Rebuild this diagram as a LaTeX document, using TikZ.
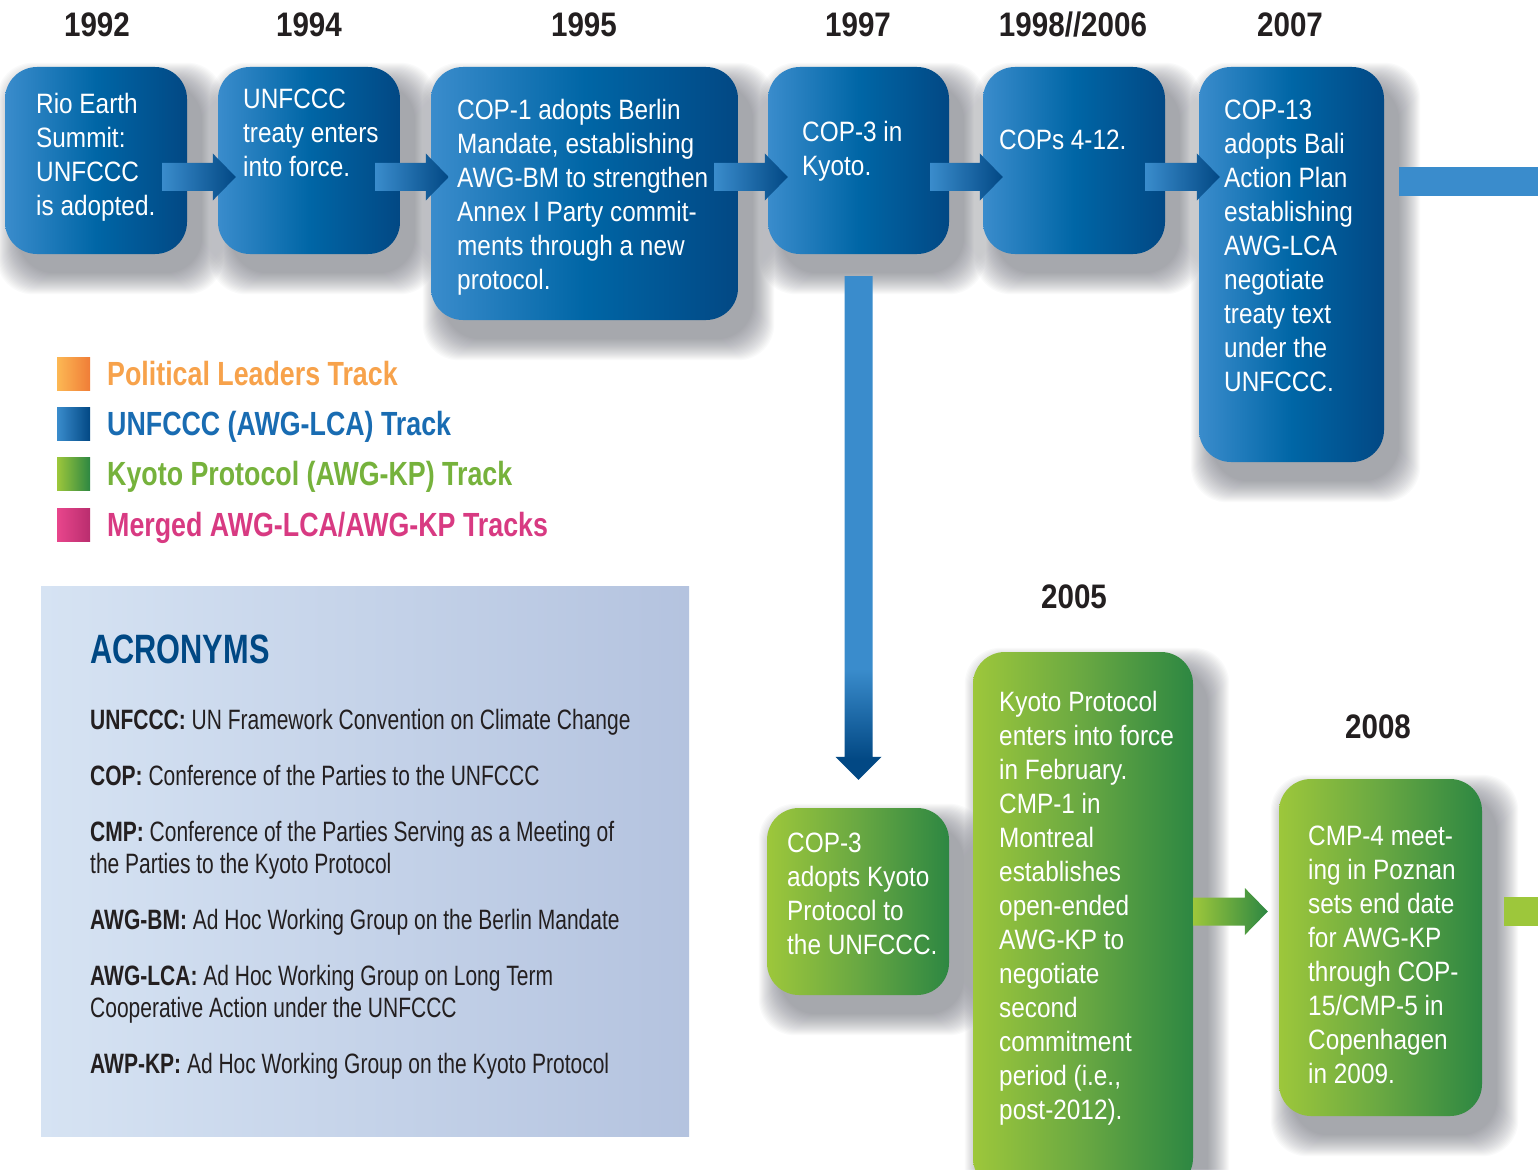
\documentclass[tikz,border=0pt]{standalone}
\usepackage{fontspec}
\setmainfont{Liberation Sans}[FakeStretch=0.87]
\newfontfamily\legendfont{Liberation Sans}[FakeStretch=0.80]
\newfontfamily\acrfont{Liberation Sans}[FakeStretch=0.75]
\usetikzlibrary{calc,backgrounds}

\definecolor{unlight}{RGB}{58,140,204}
\definecolor{unmid}{RGB}{0,102,166}
\definecolor{undark}{RGB}{2,72,132}
\definecolor{kplight}{RGB}{157,199,59}
\definecolor{kpmid}{RGB}{105,168,66}
\definecolor{kpdark}{RGB}{45,135,66}
\definecolor{yeargray}{RGB}{35,31,32}
\definecolor{shadowgray}{RGB}{95,97,110}
\definecolor{acrlight}{RGB}{214,227,243}
\definecolor{acrdark}{RGB}{180,195,223}
\definecolor{acrblue}{RGB}{0,72,132}
\definecolor{orangelight}{RGB}{252,184,84}
\definecolor{orangedark}{RGB}{240,125,55}
\definecolor{pinklight}{RGB}{232,70,140}
\definecolor{pinkdark}{RGB}{185,45,110}
\definecolor{poltext}{RGB}{247,162,75}
\definecolor{untext}{RGB}{25,108,178}
\definecolor{kptext}{RGB}{118,178,60}
\definecolor{mergetext}{RGB}{216,58,130}

\pgfdeclareverticalshading{droparrow}{100bp}{color(0bp)=(undark); color(27bp)=(undark); color(36bp)=(unlight); color(100bp)=(unlight)}

\tikzset{event/.style={rounded corners=32pt,inner sep=0pt,left color=unlight,right color=undark,middle color=unmid},
  kpevent/.style={event,left color=kplight,right color=kpdark,middle color=kpmid},
  eventtext/.style={anchor=north west,inner sep=0pt,align=left,text=white,font=\fontsize{28}{34}\selectfont},
  year/.style={inner sep=0pt,text=yeargray,font=\bfseries\fontsize{34}{40}\selectfont},
  legendbox/.style={minimum size=33pt,inner sep=0pt},
  legendtext/.style={anchor=base west,inner sep=0pt,font=\legendfont\bfseries\fontsize{33.5}{40}\selectfont},
  acrentry/.style={anchor=north west,inner sep=0pt,align=left,text=yeargray,font=\acrfont\fontsize{28}{32}\selectfont}}

% block arrow between two boxes: style, from, to, start offset, tip offset, level
\newcommand{\trackarrow}[6]{%
  \shade[#1] let \p1=(#2.east), \p2=(#3.west) in
    ({\x1+#4pt},{-#6pt+14pt}) -- ({\x2+#5pt-23pt},{-#6pt+14pt}) -- ({\x2+#5pt-23pt},{-#6pt+23.5pt})
    -- ({\x2+#5pt},{-#6pt}) -- ({\x2+#5pt-23pt},{-#6pt-23.5pt}) -- ({\x2+#5pt-23pt},{-#6pt-14pt})
    -- ({\x1+#4pt},{-#6pt-14pt}) -- cycle;}

% soft shadow under a box
\newcommand{\softshadow}[1]{%
  \foreach \g in {1,2,...,22}
    \fill[shadowgray,opacity=0.031,rounded corners=36pt]
      ($(#1.north west)+(14-\g,18-\g)$) rectangle ($(#1.south east)+(14+\g,18+\g)$);}

\begin{document}
\begin{tikzpicture}[x=1pt,y=-1pt]
    \useasboundingbox (0,0) rectangle (1538,1169);
    \clip (0,0) rectangle (1538,1169);

    % UNFCCC track
    \begin{scope}
        \node[event,minimum width=182,minimum height=187] (rio) at (96,160.5) {};
        \node[event,minimum width=182,minimum height=187] (force) at (309,160.5) {};
        \node[event,minimum width=307,minimum height=253] (berlin) at (584.5,193.5) {};
        \node[event,minimum width=181,minimum height=187] (kyoto) at (858.5,160.5) {};
        \node[event,minimum width=182,minimum height=187] (cops) at (1074,160.5) {};
        \node[event,minimum width=185,minimum height=395] (bali) at (1291.5,264.5) {};

        \node[eventtext] (riotxt) at (36,93.5) {Rio Earth\\Summit:\\UNFCCC\\is adopted.};
        \node[eventtext] (forcetxt) at (243,88.5) {UNFCCC\\treaty enters\\into force.};
        \node[eventtext] (berlintxt) at (457,99.5) {COP-1 adopts Berlin\\Mandate, establishing\\AWG-BM to strengthen\\Annex I Party commit-\\ments through a new\\protocol.};
        \node[eventtext] (kyototxt) at (802,121.5) {COP-3 in\\Kyoto.};
        \node[eventtext] (copstxt) at (999,129.5) {COPs 4-12.};
        \node[eventtext] (balitxt) at (1224,99.5) {COP-13\\adopts Bali\\Action Plan\\establishing\\AWG-LCA\\negotiate\\treaty text\\under the\\UNFCCC.};

        \trackarrow{left color=unlight,right color=undark}{rio}{force}{-25}{18}{177}
        \trackarrow{left color=unlight,right color=undark}{force}{berlin}{-25}{18}{177}
        \trackarrow{left color=unlight,right color=undark}{berlin}{kyoto}{-24}{20}{177}
        \trackarrow{left color=unlight,right color=undark}{kyoto}{cops}{-19}{20}{177}
        \trackarrow{left color=unlight,right color=undark}{cops}{bali}{-20}{21}{177}

        \coordinate (unout) at (1538,181.5);
        \draw[unlight,line width=29pt] ($(bali.east |- unout)+(15,0)$) -- (unout);
    \end{scope}

    % years
    \node[year] (y1992) at (97,25) {1992};
    \node[year] (y1994) at (309,25) {1994};
    \node[year] (y1995) at (584,25) {1995};
    \node[year] (y1997) at (858,25) {1997};
    \node[year] (y1998) at (1073,25) {1998//2006};
    \node[year] (y2007) at (1290,25) {2007};
    \node[year] (y2005) at (1074,597) {2005};
    \node[year] (y2008) at (1378,727) {2008};

    % Kyoto Protocol track
    \begin{scope}
        \node[kpevent,minimum width=182,minimum height=187] (adopt) at (858,901.5) {};
        \node[kpevent,minimum width=220,minimum height=538] (cmp1) at (1083,921) {};
        \node[kpevent,minimum width=203,minimum height=337] (cmp4) at (1380.5,947.5) {};

        \node[eventtext] (adopttxt) at (787,832.5) {COP-3\\adopts Kyoto\\Protocol to\\the UNFCCC.};
        \node[eventtext] (cmp1txt) at (999,690.5) {Kyoto Protocol\\enters into force\\in February.\\CMP-1 in\\Montreal\\establishes\\open-ended\\AWG-KP to\\negotiate\\second\\commitment\\period (i.e.,\\post-2012).};
        \node[eventtext] (cmp4txt) at (1308,825.5) {CMP-4 meet-\\ing in Poznan\\sets end date\\for AWG-KP\\through COP-\\15/CMP-5 in\\Copenhagen\\in 2009.};

        % down from Kyoto
        \shade[shading=droparrow] let \p1=(kyoto.south), \p2=(adopt.north) in
            (\x1-14pt,\y1-22pt) -- (\x1-14pt,\y2+51pt) -- (\x1-23pt,\y2+51pt) -- (\x1,\y2+28pt)
            -- (\x1+23pt,\y2+51pt) -- (\x1+14pt,\y2+51pt) -- (\x1+14pt,\y1-22pt) -- cycle;

        \trackarrow{left color=kplight,right color=kpdark}{cmp1}{cmp4}{0}{-11}{911.5}

        \coordinate (kpout) at (1538,911.5);
        \draw[kplight,line width=29pt] ($(cmp4.east |- kpout)+(22,0)$) -- (kpout);
    \end{scope}

    % shadows go under everything
    \begin{scope}[on background layer]
        \fill[white] (0,0) rectangle (1538,1169);
        \foreach \b in {rio,force,berlin,kyoto,cops,bali,adopt,cmp1,cmp4}
            {\softshadow{\b}}
    \end{scope}

    % legend
    \node[legendbox,left color=orangelight,right color=orangedark] (polsq) at (73.5,373.5) {};
    \node[legendbox,left color=unlight,right color=undark] (unsq) at (73.5,423.5) {};
    \node[legendbox,left color=kplight,right color=kpdark] (kpsq) at (73.5,474) {};
    \node[legendbox,left color=pinklight,right color=pinkdark] (mergesq) at (73.5,524.5) {};
    \node[legendtext,text=poltext] (poltxt) at (107,385) {Political Leaders Track};
    \node[legendtext,text=untext] (untxt) at (107,435) {UNFCCC (AWG-LCA) Track};
    \node[legendtext,text=kptext] (kptxt) at (107,485) {Kyoto Protocol (AWG-KP) Track};
    \node[legendtext,text=mergetext] (mergetxt) at (107,536) {Merged AWG-LCA/AWG-KP Tracks};

    % acronyms
    \shade[left color=acrlight,right color=acrdark] (41,586) rectangle (689,1136);
    \node[anchor=base west,inner sep=0pt,text=acrblue,font=\acrfont\bfseries\fontsize{41}{48}\selectfont] (acrhead) at (90,663) {ACRONYMS};
    \node[acrentry] (acr1) at (90,709) {\textbf{UNFCCC:} UN Framework Convention on Climate Change};
    \node[acrentry] (acr2) at (90,765) {\textbf{COP:} Conference of the Parties to the UNFCCC};
    \node[acrentry] (acr3) at (90,821) {\textbf{CMP:} Conference of the Parties Serving as a Meeting of\\the Parties to the Kyoto Protocol};
    \node[acrentry] (acr4) at (90,909) {\textbf{AWG-BM:} Ad Hoc Working Group on the Berlin Mandate};
    \node[acrentry] (acr5) at (90,965) {\textbf{AWG-LCA:} Ad Hoc Working Group on Long Term\\Cooperative Action under the UNFCCC};
    \node[acrentry] (acr6) at (90,1053) {\textbf{AWP-KP:} Ad Hoc Working Group on the Kyoto Protocol};

\end{tikzpicture}
\end{document}
